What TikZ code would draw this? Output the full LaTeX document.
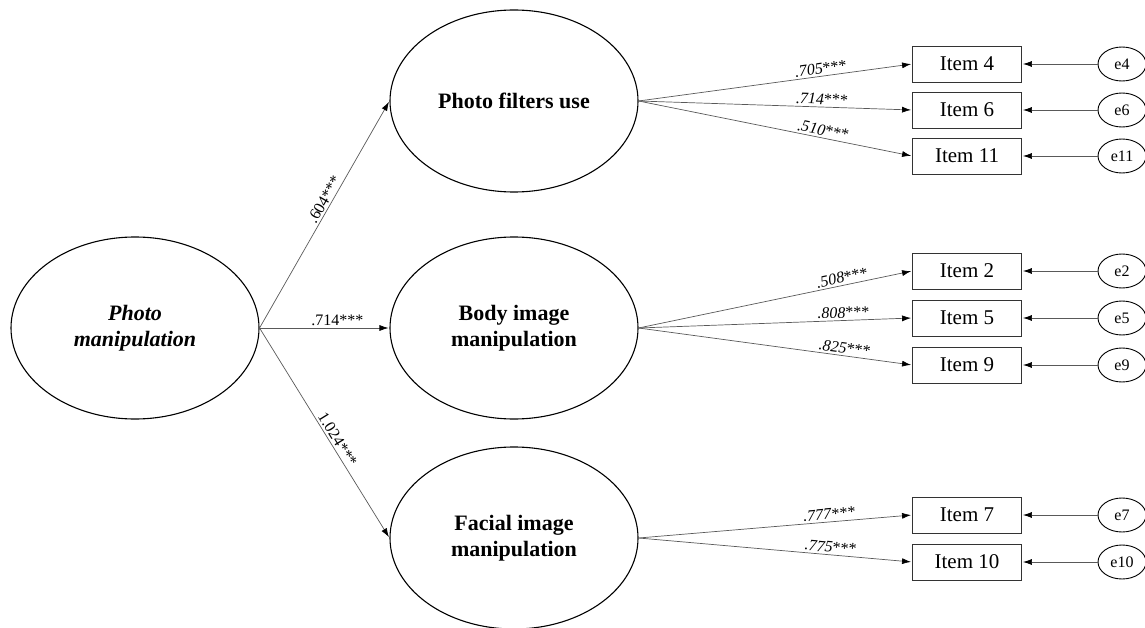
\documentclass[tikz,border=0pt]{standalone}
\usepackage{fontspec}
\setmainfont{Liberation Serif}
\usetikzlibrary{positioning, shapes, arrows.meta}

\begin{document}
\begin{tikzpicture}[x=1pt,y=-1pt,on grid,shorten >=1pt,
    latent/.style={ellipse,draw,line width=1.1pt,minimum width=248pt,minimum height=182pt,
      inner sep=0pt,align=center,font=\fontsize{22}{26}\selectfont\bfseries},
    item/.style={rectangle,draw=black!80,line width=0.9pt,minimum width=109pt,
      minimum height=36pt,font=\fontsize{21}{24}\selectfont},
    err/.style={ellipse,draw,line width=0.9pt,minimum width=48pt,minimum height=34pt,
      inner sep=0pt,font=\fontsize{16}{18}\selectfont},
    coef/.style={sloped,above,inner sep=2pt,font=\fontsize{16}{18}\selectfont},
    every edge/.style={draw=black!65,line width=0.7pt,-{Latex[length=9pt,width=6pt,color=black]}}]

      \useasboundingbox (0,0) rectangle (1145,628);

      \node[latent] (l_0) at (135,328) {\textit{Photo}\\\textit{manipulation}};
      \node[latent] (l_2) [right=379pt of l_0] {Body image\\manipulation};
      \node[latent] (l_1) [above=227pt of l_2] {Photo filters use};
      \node[latent] (l_3) [below=210pt of l_2] {Facial image\\manipulation};

      \node[item] (i_6)  at (967,110)          {Item 6};
      \node[item] (i_4)  [above=46pt of i_6]   {Item 4};
      \node[item] (i_11) [below=46pt of i_6]   {Item 11};
      \node[item] (i_5)  at (967,318)          {Item 5};
      \node[item] (i_2)  [above=47pt of i_5]   {Item 2};
      \node[item] (i_9)  [below=47pt of i_5]   {Item 9};
      \node[item] (i_7)  at (967,515)          {Item 7};
      \node[item] (i_10) [below=47pt of i_7]   {Item 10};

      \node[err] (e_4)  [right=155pt of i_4]  {e4};
      \node[err] (e_6)  [right=155pt of i_6]  {e6};
      \node[err] (e_11) [right=155pt of i_11] {e11};
      \node[err] (e_2)  [right=155pt of i_2]  {e2};
      \node[err] (e_5)  [right=155pt of i_5]  {e5};
      \node[err] (e_9)  [right=155pt of i_9]  {e9};
      \node[err] (e_7)  [right=155pt of i_7]  {e7};
      \node[err] (e_10) [right=155pt of i_10] {e10};

      \path (l_0.east) edge node[coef,pos=.55] {.604***}  (l_1.west)
                       edge node[coef,pos=.6]  {.714***}  (l_2.west)
                       edge node[coef,pos=.55] {1.024***} (l_3.west)
            (l_1.east) edge node[coef,pos=.67] {\textit{.705}***} (i_4.west)
                       edge node[coef,pos=.67] {\textit{.714}***} (i_6.west)
                       edge node[coef,pos=.67] {\textit{.510}***} (i_11.west)
            (l_2.east) edge node[coef,pos=.75] {\textit{.508}***} (i_2.west)
                       edge node[coef,pos=.75] {\textit{.808}***} (i_5.west)
                       edge node[coef,pos=.75] {\textit{.825}***} (i_9.west)
            (l_3.east) edge node[coef,pos=.7]  {\textit{.777}***} (i_7.west)
                       edge node[coef,pos=.7]  {\textit{.775}***} (i_10.west);

      \path (e_4) edge (i_4)
            (e_6) edge (i_6)
            (e_11) edge (i_11)
            (e_2) edge (i_2)
            (e_5) edge (i_5)
            (e_9) edge (i_9)
            (e_7) edge (i_7)
            (e_10) edge (i_10);
    \end{tikzpicture}
\end{document}
